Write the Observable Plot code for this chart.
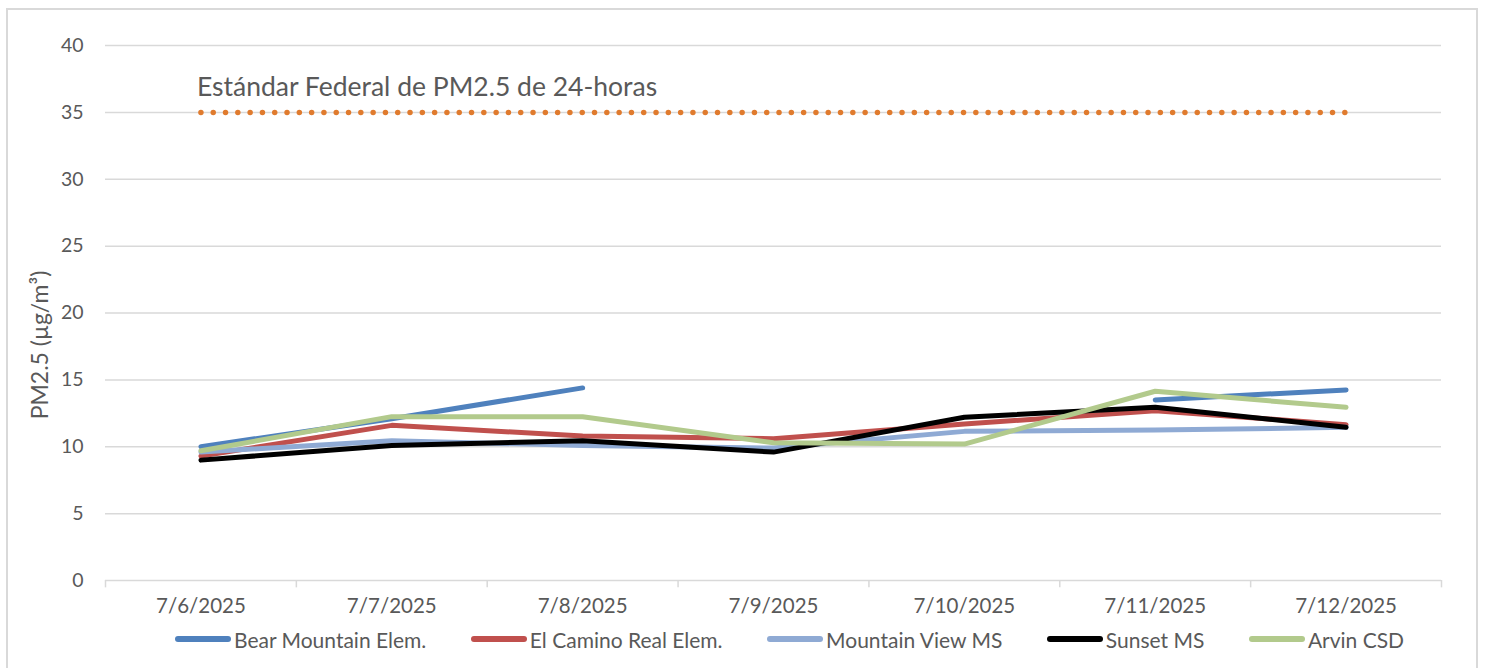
<!DOCTYPE html>
<html>
<head>
<meta charset="utf-8">
<script src="https://cdn.jsdelivr.net/npm/d3@7"></script>
<script src="https://cdn.jsdelivr.net/npm/@observablehq/plot@0.6"></script>
<style>
  html, body { margin: 0; padding: 0; background: #fff; }
  body { width: 1486px; height: 668px; position: relative; overflow: hidden; font-family: Lato, "Open Sans", sans-serif; }
  #frame { position: absolute; left: 6px; top: 8px; width: 1472px; height: 700px; border: 2px solid #d9d9d9; box-sizing: border-box; }
  #chart { position: absolute; left: 0; top: 0; }
  #legend { position: absolute; left: 175px; top: 625px; height: 28px; display: flex; align-items: center; gap: 44.5px; color: #595959; font-size: 21px; }
  .item { display: flex; align-items: center; }
  .sw { width: 56px; height: 6px; border-radius: 3px; margin-right: 3px; }
</style>
</head>
<body>
<div id="frame"></div>
<div id="chart"></div>
<div id="legend"></div>
<script>
const dates = ["7/6/2025", "7/7/2025", "7/8/2025", "7/9/2025", "7/10/2025", "7/11/2025", "7/12/2025"];
const seriesNames = ["Bear Mountain Elem.", "El Camino Real Elem.", "Mountain View MS", "Sunset MS", "Arvin CSD"];
const seriesColors = ["#4F81BD", "#C0504D", "#8FAAD4", "#000000", "#B2CA8C"];
const bearMountain = [10.0, 12.1, 14.4, null, null, 13.5, 14.25];
const elCamino     = [9.3, 11.6, 10.8, 10.6, 11.7, 12.7, 11.65];
const mountainView = [9.6, 10.45, 10.1, 9.9, 11.15, 11.25, 11.45];
const sunset       = [9.0, 10.1, 10.45, 9.6, 12.2, 12.95, 11.45];
const arvin        = [9.7, 12.25, 12.25, 10.3, 10.2, 14.15, 12.95];
const standardValue = 35;
const standardLabel = "Estándar Federal de PM2.5 de 24-horas";
const yTicks = [0, 5, 10, 15, 20, 25, 30, 35, 40];
const yLabel = "PM2.5 (µg/m³)";

const allSeries = [bearMountain, elCamino, mountainView, sunset, arvin];
const rows = [];
allSeries.forEach((vals, s) => {
  vals.forEach((v, i) => rows.push({series: seriesNames[s], pos: i + 0.5, value: v}));
});
const bounds = d3.range(dates.length + 1);
const labels = dates.map((d, i) => ({pos: i + 0.5, label: d}));
const stdRow = [{pos: 0.5, value: standardValue}, {pos: dates.length - 0.5, value: standardValue}];

const gray = "#595959";
const chart = Plot.plot({
  width: 1486,
  height: 625,
  marginLeft: 105,
  marginRight: 45,
  marginTop: 45,
  marginBottom: 45,
  style: {fontFamily: "Lato, 'Open Sans', sans-serif", fontSize: "19px", color: gray, background: "transparent"},
  x: {domain: [0, dates.length], axis: null},
  y: {domain: [0, 40], axis: null},
  color: {domain: seriesNames, range: seriesColors},
  marks: [
    Plot.ruleY(yTicks, {stroke: "#d9d9d9", strokeWidth: 1.5}),
    Plot.ruleX(bounds, {x: d => d, y1: 0, y2: -0.55, stroke: "#d9d9d9", strokeWidth: 1.5}),
    Plot.axisY({ticks: yTicks, tickSize: 0, tickPadding: 22, fontSize: 19.5, fill: gray, label: null}),
    Plot.text(labels, {x: "pos", frameAnchor: "bottom", text: "label", dy: 32, fill: gray, fontSize: 20.5}),
    Plot.text([yLabel], {frameAnchor: "left", textAnchor: "middle", dx: -65, dy: 32, rotate: -90, fill: gray, fontSize: 23}),
    Plot.line(stdRow, {x: "pos", y: "value", stroke: "#E07B2E", strokeWidth: 5.5, strokeDasharray: "0,12.3", strokeLinecap: "round"}),
    Plot.text([standardLabel], {x: 0.5, y: standardValue, dy: -25, dx: -4, textAnchor: "start", fill: gray, fontSize: 26.5}),
    Plot.line(rows, {x: "pos", y: "value", z: "series", stroke: "series", strokeWidth: 5, strokeLinecap: "round", strokeLinejoin: "round"})
  ]
});
document.getElementById("chart").appendChild(chart);

const legend = document.getElementById("legend");
seriesNames.forEach((n, i) => {
  const it = document.createElement("div");
  it.className = "item";
  const sw = document.createElement("div");
  sw.className = "sw";
  sw.style.background = seriesColors[i];
  const t = document.createElement("span");
  t.textContent = n;
  it.appendChild(sw); it.appendChild(t);
  legend.appendChild(it);
});
</script>
</body>
</html>
